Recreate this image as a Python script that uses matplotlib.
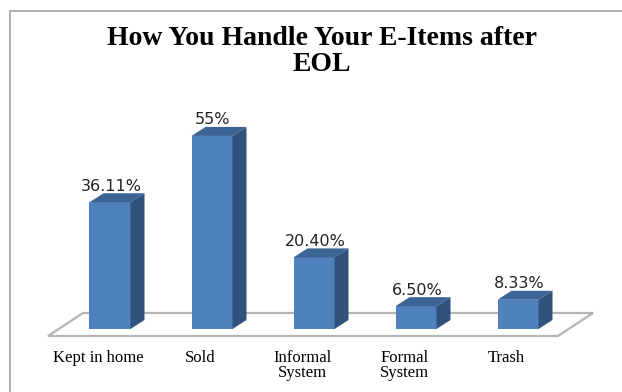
"""Bar chart with a pseudo-3D look: what people do with e-items after EOL."""

import matplotlib
matplotlib.use("Agg")
import matplotlib.pyplot as plt
from matplotlib.patches import Polygon

categories = ["Kept in home", "Sold", "Informal\nSystem", "Formal\nSystem", "Trash"]
values = [36.11, 55, 20.40, 6.50, 8.33]
value_labels = ["36.11%", "55%", "20.40%", "6.50%", "8.33%"]
title = "How You Handle Your E-Items after\nEOL"

W, H = 622, 392
PX_X = 102.0    # pixels per category
PX_Y = 3.51     # pixels per percentage point
X0 = 110.0      # pixel x of the first bar centre
Y0 = 329.0      # pixel y of the zero line

BAR_W = 41 / PX_X
DX = 14 / PX_X
DY = 9 / PX_Y

FRONT = "#4f81bd"
TOP = "#3c6595"
SIDE = "#30527c"
FLOOR = "#b4b4b4"


def px(x, y):
    """Pixel position to data position."""
    return (x - X0) / PX_X, (Y0 - y) / PX_Y


fig = plt.figure(figsize=(W / 100, H / 100), dpi=100)
ax = fig.add_axes([0, 0, 1, 1])
ax.set_xlim(-X0 / PX_X, (W - X0) / PX_X)
ax.set_ylim((Y0 - H) / PX_Y, Y0 / PX_Y)
ax.axis("off")

# chart frame, open on the right and at the bottom
ax.plot(*zip(px(10, H), px(10, 11), px(W, 11)), color="#a8a8a8", lw=1.3, zorder=1)

# floor
floor = [px(48, 336), px(83, 313), px(593, 313), px(558, 336)]
ax.add_patch(Polygon(floor, closed=True, fc="white", ec=FLOOR, lw=1.6, zorder=2))

for i, v in enumerate(values):
    left = i - BAR_W / 2
    right = i + BAR_W / 2
    ax.bar(i, v, width=BAR_W, color=FRONT, zorder=4)
    ax.add_patch(Polygon([(left, v), (right, v), (right + DX, v + DY), (left + DX, v + DY)],
                         closed=True, fc=TOP, ec="none", zorder=4))
    ax.add_patch(Polygon([(right, 0), (right + DX, DY), (right + DX, v + DY), (right, v)],
                         closed=True, fc=SIDE, ec="none", zorder=4))
    ax.text(i + 1 / PX_X, v + DY + 2.0, value_labels[i], ha="center", va="center",
            fontsize=11.5, color="#222222", family="DejaVu Sans", zorder=5)

for i, name in enumerate(categories):
    x, y = px(X0 + PX_X * i - 11.5, 350)
    ax.text(x, y, name, ha="center", va="top", fontsize=12, fontweight="normal",
            color="black", family="Liberation Serif", linespacing=0.95)

x, y = px(322, 26)
ax.text(x, y, title, ha="center", va="top", fontsize=20, fontweight="bold",
        color="black", family="Liberation Serif", linespacing=1.06)

fig.savefig("out.png", dpi=100)
